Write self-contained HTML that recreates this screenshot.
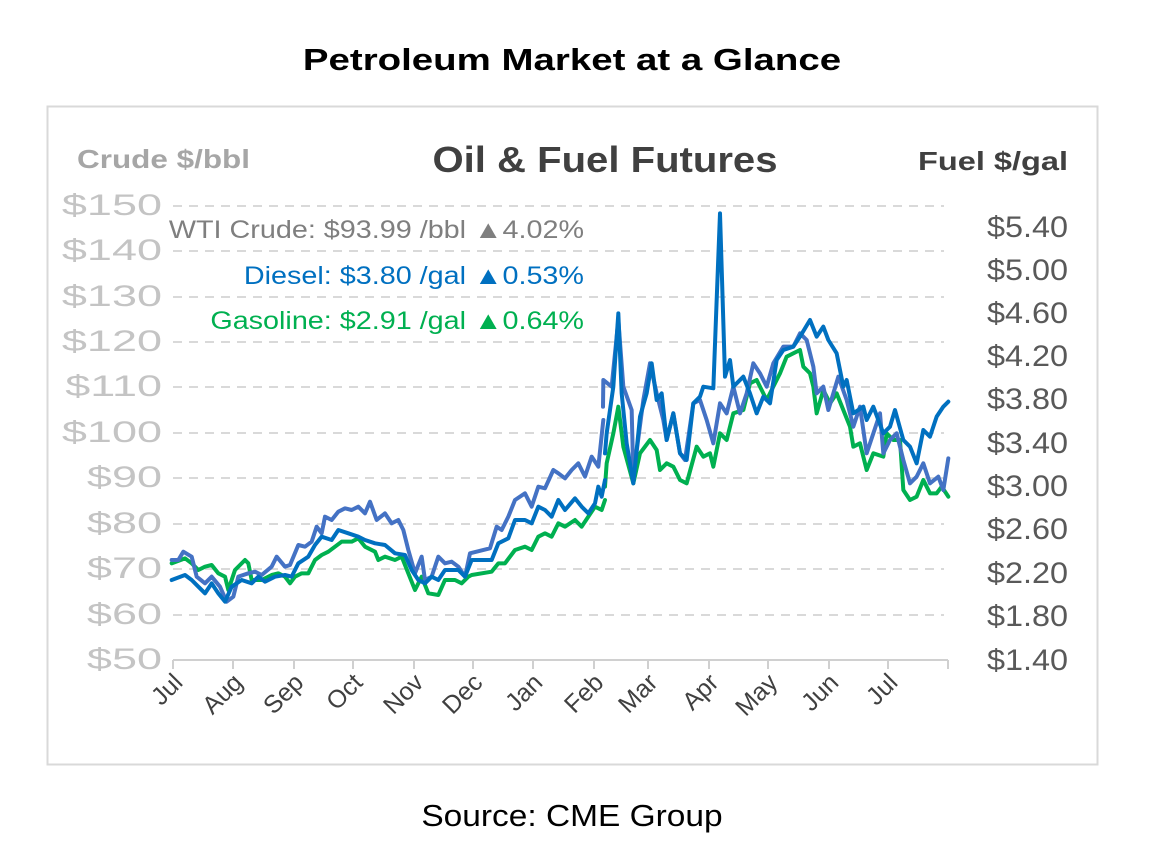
<!DOCTYPE html>
<html><head><meta charset="utf-8"><style>
html,body{margin:0;padding:0;background:#fff;}
svg{display:block;}
text{font-family:"Liberation Sans",sans-serif;}
</style></head><body>
<svg width="1150" height="858" viewBox="0 0 1150 858" xmlns="http://www.w3.org/2000/svg">
<g transform="translate(572,0) scale(1.24,1)"><text x="0" y="70" text-anchor="middle" font-size="31" font-weight="bold" fill="#000">Petroleum Market at a Glance</text></g>
<rect x="47.5" y="106.5" width="1050" height="658" fill="none" stroke="#d9d9d9" stroke-width="2"/>
<text x="77" y="168" font-size="26" font-weight="bold" fill="#a6a6a6" textLength="173" lengthAdjust="spacingAndGlyphs">Crude $/bbl</text>
<text x="605" y="172" text-anchor="middle" font-size="36" font-weight="bold" fill="#404040" textLength="345" lengthAdjust="spacingAndGlyphs">Oil &amp; Fuel Futures</text>
<text x="1068" y="170" text-anchor="end" font-size="26" font-weight="bold" fill="#404040" textLength="150" lengthAdjust="spacingAndGlyphs">Fuel $/gal</text>
<g stroke="#d9d9d9" stroke-width="2" stroke-dasharray="9,7">
<line x1="173" y1="206" x2="944" y2="206"/><line x1="173" y1="251" x2="944" y2="251"/>
<line x1="173" y1="297" x2="944" y2="297"/><line x1="173" y1="342" x2="944" y2="342"/>
<line x1="173" y1="387" x2="944" y2="387"/><line x1="173" y1="433" x2="944" y2="433"/>
<line x1="173" y1="478" x2="944" y2="478"/><line x1="173" y1="524" x2="944" y2="524"/>
<line x1="173" y1="569" x2="944" y2="569"/><line x1="173" y1="615" x2="944" y2="615"/>
</g>
<g stroke="#d0d0d0" stroke-width="2">
<line x1="173" y1="660" x2="948" y2="660"/>
<line x1="173" y1="660" x2="173" y2="669"/><line x1="233" y1="660" x2="233" y2="669"/><line x1="294" y1="660" x2="294" y2="669"/><line x1="353" y1="660" x2="353" y2="669"/><line x1="414" y1="660" x2="414" y2="669"/><line x1="473" y1="660" x2="473" y2="669"/><line x1="533" y1="660" x2="533" y2="669"/><line x1="594" y1="660" x2="594" y2="669"/><line x1="648" y1="660" x2="648" y2="669"/><line x1="709" y1="660" x2="709" y2="669"/><line x1="768" y1="660" x2="768" y2="669"/><line x1="829" y1="660" x2="829" y2="669"/><line x1="888" y1="660" x2="888" y2="669"/><line x1="948" y1="660" x2="948" y2="669"/>
</g>
<g transform="translate(162,0) scale(1.5,1)" font-size="30" fill="#c4c4c4" text-anchor="end">
<text x="0" y="215">$150</text><text x="0" y="260">$140</text><text x="0" y="306">$130</text><text x="0" y="351">$120</text><text x="0" y="396">$110</text><text x="0" y="442">$100</text><text x="0" y="487">$90</text><text x="0" y="533">$80</text><text x="0" y="578">$70</text><text x="0" y="624">$60</text><text x="0" y="669">$50</text>
</g>
<g transform="translate(987,0) scale(1.08,1)" font-size="30" fill="#595959">
<text x="0" y="237">$5.40</text><text x="0" y="280">$5.00</text><text x="0" y="323">$4.60</text><text x="0" y="366">$4.20</text><text x="0" y="409">$3.80</text><text x="0" y="453">$3.40</text><text x="0" y="496">$3.00</text><text x="0" y="539">$2.60</text><text x="0" y="583">$2.20</text><text x="0" y="626">$1.80</text><text x="0" y="670">$1.40</text>
</g>
<g font-size="25" fill="#404040" text-anchor="end">
<text transform="translate(184,684) rotate(-45)">Jul</text>
<text transform="translate(244,684) rotate(-45)">Aug</text>
<text transform="translate(305,684) rotate(-45)">Sep</text>
<text transform="translate(364,684) rotate(-45)">Oct</text>
<text transform="translate(425,684) rotate(-45)">Nov</text>
<text transform="translate(484,684) rotate(-45)">Dec</text>
<text transform="translate(544,684) rotate(-45)">Jan</text>
<text transform="translate(605,684) rotate(-45)">Feb</text>
<text transform="translate(659,684) rotate(-45)">Mar</text>
<text transform="translate(720,684) rotate(-45)">Apr</text>
<text transform="translate(779,684) rotate(-45)">May</text>
<text transform="translate(840,684) rotate(-45)">Jun</text>
<text transform="translate(899,684) rotate(-45)">Jul</text>
</g>
<g fill="none" stroke-width="4" stroke-linejoin="round" stroke-linecap="round">
<g transform="translate(165,420) scale(0.33333)" stroke="#00b050">
<polyline vector-effect="non-scaling-stroke" points="20,430 60,415 80,430 100,450 120,440 140,435 160,460 180,470 190,510 210,450 240,420 250,430 260,480 290,480 320,465 340,460 360,470 375,490 390,470 410,460 430,460 450,420 470,405 490,395 510,380 530,365 560,365 580,355 600,380 630,395 640,420 660,410 690,420 710,410 730,460 750,510 770,470 790,520 820,525 840,480 870,480 890,490 910,470 920,465 980,455 1000,430 1020,430 1050,390 1080,380 1100,390 1120,350 1140,340 1160,350 1180,310 1200,320 1230,300 1250,320 1270,290 1290,260 1310,270 1320,240"/>
</g>
<g transform="translate(580,200) scale(0.33333)" stroke="#00b050">
<polyline vector-effect="non-scaling-stroke" points="75,860 80,790 100,700 115,620 130,740 160,850 180,760 210,720 230,750 240,810 260,790 280,800 300,840 320,850 350,740 370,770 390,760 400,800 420,700 440,720 460,640 490,630 510,550 530,540 560,600 580,560 600,520 620,470 640,460 660,450 670,500 690,520 700,560 710,640 730,570 750,610 770,580 790,630 810,680 820,740 840,730 860,810 880,760 910,770 920,700 940,720 960,720 970,870 990,900 1010,890 1030,840 1050,880 1070,880 1085,860 1105,890"/>
</g>
<g transform="translate(165,420) scale(0.33333)" stroke="#4472c4">
<polyline vector-effect="non-scaling-stroke" points="20,420 40,420 55,395 80,410 95,470 120,490 140,470 165,500 185,545 205,530 220,470 250,460 270,455 290,465 320,440 335,410 360,440 375,435 400,375 420,380 440,365 455,320 470,340 480,290 500,300 520,275 540,265 560,270 580,260 600,280 615,245 635,300 660,280 680,310 700,300 715,330 730,390 750,460 770,410 780,480 800,470 820,410 840,430 860,425 880,440 900,470 915,400 975,385 995,320 1010,330 1030,290 1050,240 1080,220 1100,260 1120,200 1140,205 1165,150 1180,160 1200,175 1220,150 1240,130 1260,170 1280,110 1300,140 1315,0"/>
</g>
<g transform="translate(580,200) scale(0.33333)" stroke="#4472c4">
<polyline vector-effect="non-scaling-stroke" points="69,620 70,540 95,560 115,360 130,560 155,630 160,830 190,600 210,490 230,580 250,660 260,720 280,640 300,760 315,780 340,610 360,600 380,660 400,730 420,610 440,640 460,560 480,640 500,580 520,490 540,520 560,560 580,490 610,440 640,440 660,400 680,420 700,500 710,580 730,560 745,630 775,530 800,600 820,680 840,620 860,760 880,700 900,640 910,760 930,720 950,700 970,780 990,850 1010,830 1030,790 1050,850 1075,830 1090,870 1105,775"/>
</g>
<g transform="translate(165,420) scale(0.33333)" stroke="#0070c0">
<polyline vector-effect="non-scaling-stroke" points="20,480 60,465 80,480 100,500 120,520 140,490 160,520 180,545 200,500 230,480 260,490 280,470 300,485 330,470 360,465 380,470 400,430 430,410 450,375 470,350 500,360 520,330 550,340 580,350 600,360 630,370 660,375 690,400 720,405 740,450 760,480 780,490 800,470 820,480 840,450 880,450 900,470 920,420 980,420 1000,370 1030,355 1050,300 1080,300 1100,310 1120,260 1140,270 1160,290 1180,240 1200,270 1230,235 1250,260 1270,280 1290,250 1300,200 1310,230 1320,180"/>
</g>
<g transform="translate(580,200) scale(0.33333)" stroke="#0070c0">
<polyline vector-effect="non-scaling-stroke" points="75,760 80,700 100,560 115,340 125,580 140,730 160,850 180,650 200,580 215,490 230,600 245,580 260,720 280,640 300,760 320,780 340,610 360,590 370,560 400,565 410,300 420,40 435,530 450,480 460,560 490,530 510,580 530,640 550,590 570,610 590,480 610,450 640,440 660,410 690,360 710,410 730,380 745,420 770,460 790,560 800,540 820,640 850,620 860,660 880,620 910,700 930,680 945,630 970,720 990,740 1010,790 1030,690 1050,710 1070,650 1090,620 1105,605"/>
</g>
</g>
<g transform="translate(584,0) scale(1.15,1)" font-size="25" text-anchor="end" xml:space="preserve">
<text x="0" y="238" fill="#7f7f7f">WTI Crude: $93.99 /bbl  ▲4.02%</text>
<text x="0" y="284" fill="#0070c0">Diesel:   $3.80 /gal  ▲0.53%</text>
<text x="0" y="329" fill="#00b050">Gasoline:   $2.91 /gal  ▲0.64%</text>
</g>
<g transform="translate(572,0) scale(1.08,1)"><text x="0" y="826" text-anchor="middle" font-size="31" fill="#000">Source: CME Group</text></g>
</svg>
</body></html>
